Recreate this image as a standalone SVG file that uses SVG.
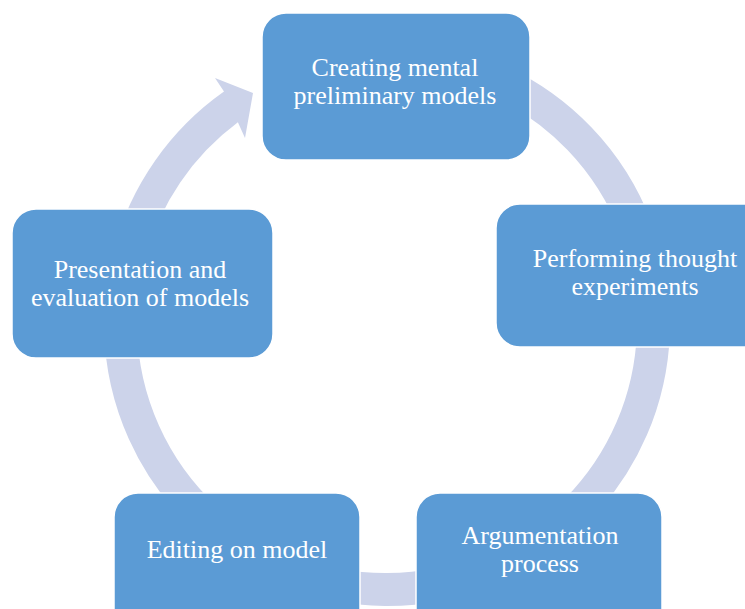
<svg xmlns="http://www.w3.org/2000/svg" width="745" height="609" viewBox="0 0 745 609">
<style>
.box{fill:#5B9BD5;stroke:#FFFFFF;stroke-width:1.5}
.lbl{fill:#FFFFFF;font-family:"Liberation Serif","Times New Roman",serif;font-size:26px;text-anchor:middle}
.band{fill:none;stroke:#CCD3EA;stroke-width:33}
.head{fill:#CCD3EA;stroke:none}
</style>
<rect x="0" y="0" width="745" height="609" fill="#FFFFFF"/>
<g id="connectors">
<path class="band" d="M 499.6 81.5 A 266.5 266.5 0 1 1 136.6 231.9"/>
<path class="head" d="M 113.6 249.8 A 283 283 0 0 1 224.0 91.6 L 215 78 L 253 93 L 245 138 L 237.9 122.3 A 250 250 0 0 0 145.5 258.3 Z"/>
</g>
<g id="node-creating">
<rect class="box" x="262" y="13" width="268" height="147" rx="24" ry="24"/>
<text class="lbl" x="395" y="76">Creating mental</text>
<text class="lbl" x="395" y="104">preliminary models</text>
</g>
<g id="node-performing">
<rect class="box" x="496" y="204" width="279" height="143" rx="24" ry="24"/>
<text class="lbl" x="635" y="267">Performing thought</text>
<text class="lbl" x="635" y="295">experiments</text>
</g>
<g id="node-argumentation">
<rect class="box" x="416" y="493" width="246" height="146" rx="24" ry="24"/>
<text class="lbl" x="540" y="544">Argumentation</text>
<text class="lbl" x="540" y="572">process</text>
</g>
<g id="node-editing">
<rect class="box" x="114" y="493" width="246" height="146" rx="24" ry="24"/>
<text class="lbl" x="237" y="558">Editing on model</text>
</g>
<g id="node-presentation">
<rect class="box" x="12" y="209" width="261" height="149" rx="24" ry="24"/>
<text class="lbl" x="140" y="278">Presentation and</text>
<text class="lbl" x="140" y="306">evaluation of models</text>
</g>
</svg>
